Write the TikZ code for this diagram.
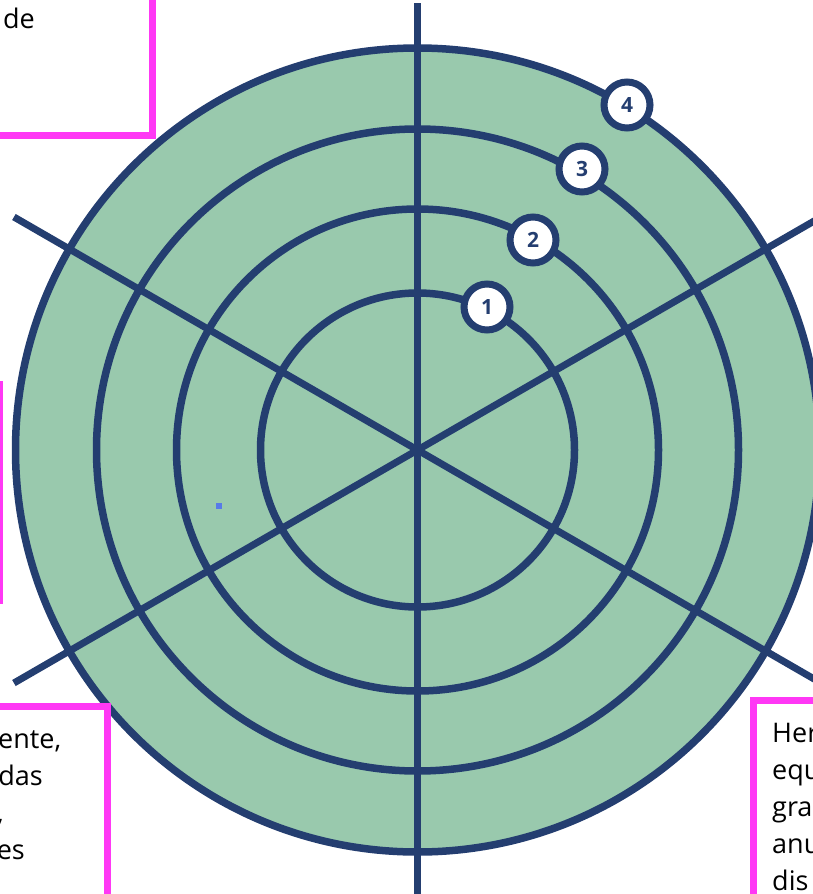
\documentclass[tikz,border=0pt]{standalone}
\usepackage{fontspec}
\setmainfont{Open Sans}
\usetikzlibrary{calc}
\definecolor{navy}{RGB}{36,62,112}
\definecolor{sage}{RGB}{153,201,173}
\definecolor{pinkline}{RGB}{255,56,245}
\definecolor{dotblue}{RGB}{88,122,232}
\tikzset{ring/.style={draw=navy, line width=7.5pt},
  spoke/.style={navy, line width=7pt},
  badge/.style={circle, draw=navy, fill=white, line width=7pt, minimum size=46pt,
    inner sep=0pt, text=navy, font=\fontsize{21}{21}\selectfont\bfseries},
  note/.style={draw=pinkline, fill=white, line width=7pt},
  frag/.style={inner sep=0pt, font=\fontsize{27}{27}\selectfont}}

\begin{document}
\begin{tikzpicture}[x=1pt, y=-1pt]
  \useasboundingbox (0,0) rectangle (813,894);
  \clip (0,0) rectangle (813,894);
  \coordinate (c) at (417.5,450);
  % green disc and the four rings
  \fill[sage] (c) circle[radius=402];
  \foreach \r in {157,241,321,402}
    \draw[ring] (c) circle[radius=\r];
  % spokes
  \coordinate (n) at ($(c)+(0,-447)$);
  \coordinate (s) at ($(c)+(0,460)$);
  \coordinate (nw) at ($(c)+(210:466)$);
  \coordinate (se) at ($(c)+(30:466)$);
  \coordinate (sw) at ($(c)+(150:466)$);
  \coordinate (ne) at ($(c)+(330:466)$);
  \draw[spoke] (n) -- (s);
  \draw[spoke] (nw) -- (se);
  \draw[spoke] (sw) -- (ne);
  % ring numbers
  \node[badge] (b1) at (487,307) {1};
  \node[badge] (b2) at (533,240) {2};
  \node[badge] (b3) at (582,169) {3};
  \node[badge] (b4) at (627,105) {4};
  \node[fill=dotblue, minimum size=6pt, inner sep=0pt] (dot) at (219,506) {};
  % note boxes
  \draw[note] (-20,-20) rectangle (152,135);
  \draw[note] (-100,384) rectangle (-1,600);
  \draw[note] (-20,706) rectangle (107,920);
  \draw[note] (753,700) rectangle (840,920);
  \node[frag, anchor=base east] (t1) at (35,28) {de};
  \node[frag, anchor=base west] (t2) at (-2,748) {ente,};
  \node[frag, anchor=base east] (t3) at (43,785) {das};
  \node[frag, anchor=base east] (t4) at (4,822) {,};
  \node[frag, anchor=base east] (t5) at (25,859) {es};
  \node[frag, anchor=base west] (r1) at (772,742) {Her};
  \node[frag, anchor=base west] (r2) at (772,779) {equ};
  \node[frag, anchor=base west] (r3) at (772,816) {gra};
  \node[frag, anchor=base west] (r4) at (772,853) {anu};
  \node[frag, anchor=base west] (r5) at (772,890) {dis};
\end{tikzpicture}
\end{document}
